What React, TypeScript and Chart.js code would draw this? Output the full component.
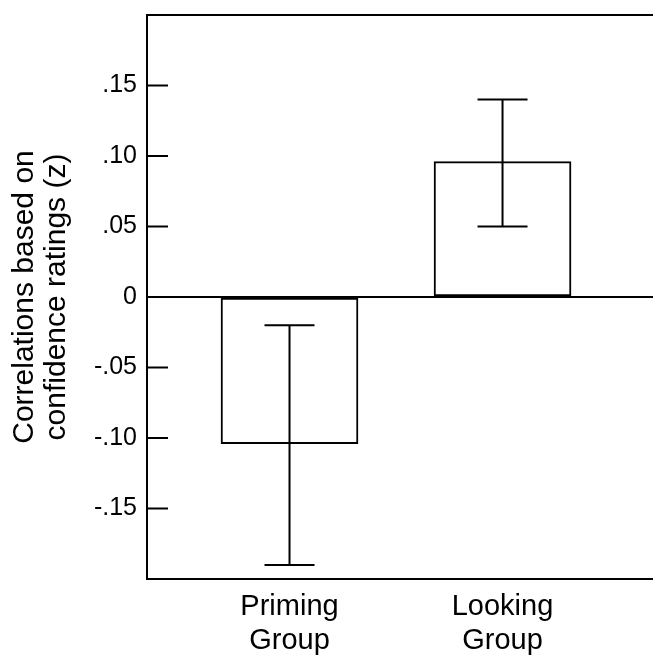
import React, { useEffect, useRef } from "react";
import { Chart, registerables } from "chart.js";

Chart.register(...registerables);

const CATEGORIES: string[][] = [["Priming", "Group"], ["Looking", "Group"]];
const POSITIONS = [1, 2];
const MEANS = [-0.104, 0.096];
const ERR_LOW = [-0.19, 0.05];
const ERR_HIGH = [-0.02, 0.14];
const Y_TICKS = [-0.15, -0.1, -0.05, 0, 0.05, 0.1, 0.15];
const Y_TITLE = ["Correlations based on", "confidence ratings (z)"];

const FONT = "'Liberation Sans', Arial, Helvetica, sans-serif";

const fmt = (v: number) => {
  if (Math.abs(v) < 1e-9) return "0";
  const s = Math.abs(v).toFixed(2).replace(/^0/, "");
  return (v < 0 ? "-" : "") + s;
};

const framePlugin = {
  id: "frame",
  afterDatasetsDraw(chart: any) {
    const { ctx, chartArea, scales } = chart;
    const x = scales.x;
    const y = scales.y;
    ctx.save();
    ctx.strokeStyle = "#000";
    ctx.lineWidth = 2;
    // top border
    ctx.beginPath();
    ctx.moveTo(chartArea.left, chartArea.top);
    ctx.lineTo(chartArea.right, chartArea.top);
    ctx.stroke();
    // inward ticks
    Y_TICKS.forEach((t) => {
      const py = y.getPixelForValue(t);
      ctx.beginPath();
      ctx.moveTo(chartArea.left, py);
      ctx.lineTo(chartArea.left + 21, py);
      ctx.stroke();
    });
    // error bars
    POSITIONS.forEach((p, i) => {
      const px = x.getPixelForValue(p);
      const lo = y.getPixelForValue(ERR_LOW[i]);
      const hi = y.getPixelForValue(ERR_HIGH[i]);
      ctx.beginPath();
      ctx.moveTo(px, lo);
      ctx.lineTo(px, hi);
      ctx.moveTo(px - 25, lo);
      ctx.lineTo(px + 25, lo);
      ctx.moveTo(px - 25, hi);
      ctx.lineTo(px + 25, hi);
      ctx.stroke();
    });
    ctx.restore();
  },
};

export default function App() {
  const ref = useRef<HTMLCanvasElement>(null);
  useEffect(() => {
    if (!ref.current) return;
    const chart = new Chart(ref.current, {
      type: "bar",
      data: {
        datasets: [
          {
            data: POSITIONS.map((p, i) => ({ x: p, y: MEANS[i] })),
            backgroundColor: "#fff",
            borderColor: "#000",
            borderWidth: 2,
            borderSkipped: false,
            barThickness: 137,
          } as any,
        ],
      },
      plugins: [framePlugin],
      options: {
        animation: false,
        responsive: false,
        maintainAspectRatio: false,
        events: [],
        layout: { padding: { top: 15, right: 0, left: 0, bottom: 0 } },
        plugins: { legend: { display: false }, tooltip: { enabled: false } },
        scales: {
          x: {
            type: "linear",
            offset: false,
            min: 0.331,
            max: 2.927,
            afterBuildTicks: (s: any) => {
              s.ticks = POSITIONS.map((v) => ({ value: v }));
            },
            afterFit: (s: any) => {
              s.height = 79;
              s.paddingLeft = 0;
              s.paddingRight = 0;
            },
            grid: { display: false, drawTicks: false, offset: false },
            border: { display: true, color: "#000", width: 2 },
            ticks: {
              autoSkip: false,
              maxRotation: 0,
              padding: 11,
              color: "#000",
              font: { family: FONT, size: 29, lineHeight: 1.17 },
              callback: (v: any) => CATEGORIES[Math.round(Number(v)) - 1] as any,
            },
          },
          y: {
            min: -0.2,
            max: 0.2,
            afterBuildTicks: (s: any) => {
              s.ticks = Y_TICKS.map((v) => ({ value: v }));
            },
            afterFit: (s: any) => {
              s.width = 147;
              s.paddingTop = 0;
              s.paddingBottom = 0;
            },
            grid: {
              drawTicks: false,
              lineWidth: 2,
              color: (c: any) => (c.tick && Math.abs(c.tick.value) < 1e-9 ? "#000" : "rgba(0,0,0,0)"),
            },
            border: { display: true, color: "#000", width: 2 },
            ticks: {
              padding: 10,
              color: "#000",
              font: { family: FONT, size: 25 },
              callback: (v: any) => fmt(Number(v)),
            },
            title: {
              display: true,
              text: Y_TITLE,
              color: "#000",
              padding: { top: 9, bottom: 0 },
              font: { family: FONT, size: 30, lineHeight: 1.07 },
            },
          },
        },
      },
    });
    return () => chart.destroy();
  }, []);
  return (
    <div style={{ position: "fixed", left: 0, top: 0, width: 653, height: 658, overflow: "hidden", background: "#fff" }}>
      <canvas ref={ref} width={700} height={658} style={{ display: "block", width: 700, height: 658 }} />
    </div>
  );
}
